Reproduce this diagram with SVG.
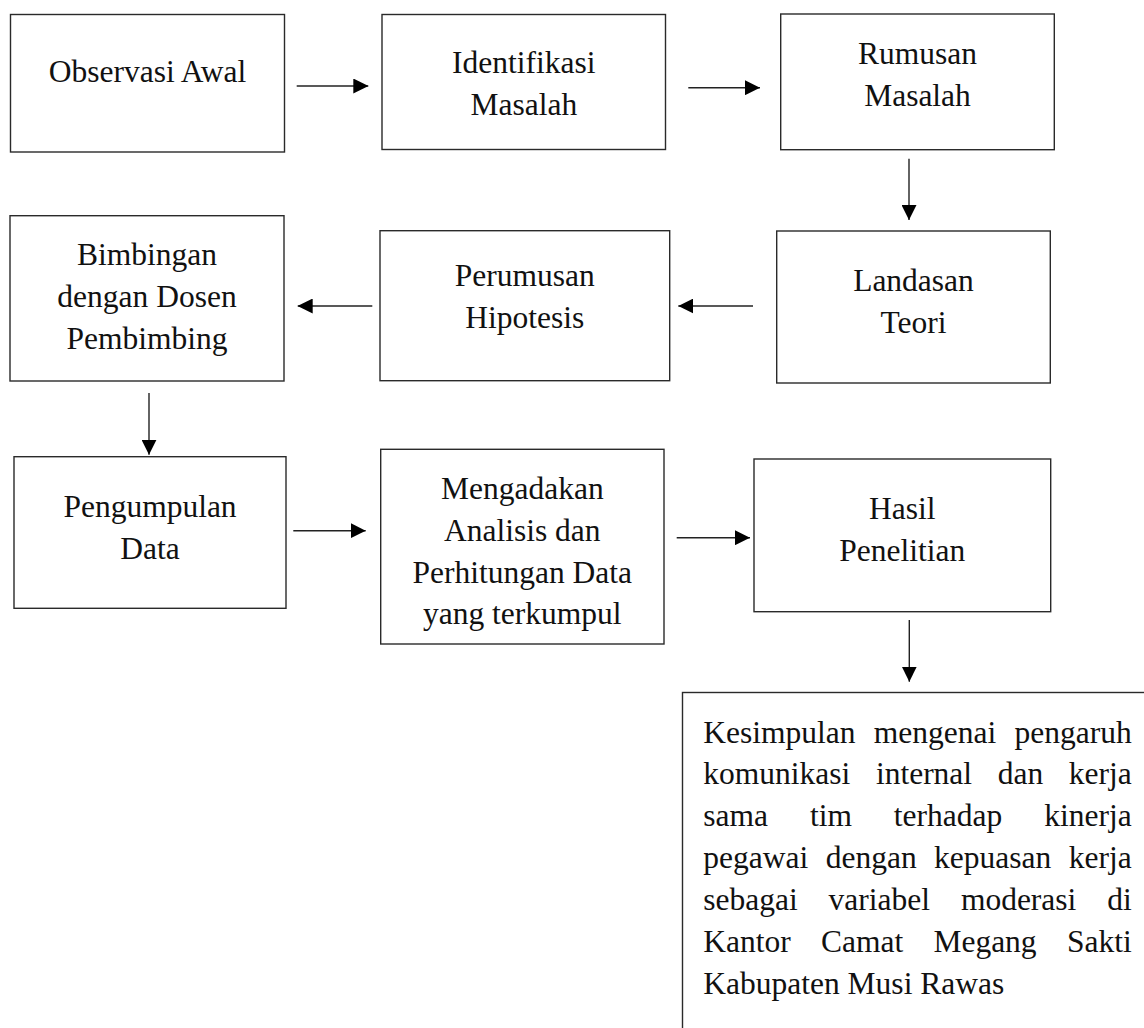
<svg xmlns="http://www.w3.org/2000/svg" width="1144" height="1028" viewBox="0 0 1144 1028">
  <style>
    .box { fill: #ffffff; stroke: #2a2a2a; stroke-width: 1.4; }
    .lbl { font-family: "Liberation Serif", "Times New Roman", serif; font-size: 31.5px; fill: #111; }
    .mid { text-anchor: middle; }
    .end { text-anchor: end; }
    .conn { stroke: #222; stroke-width: 1.4; fill: none; marker-end: url(#head); }
  </style>
  <defs>
    <marker id="head" markerUnits="userSpaceOnUse" markerWidth="15" markerHeight="15" refX="15" refY="7.5" orient="auto">
      <path d="M0,0 L15,7.5 L0,15 Z" fill="#000"/>
    </marker>
  </defs>
  <rect width="1144" height="1028" fill="#ffffff"/>

  <!-- Row 1 -->
  <g id="observasi-awal">
    <rect class="box" x="10.5" y="14.5" width="274" height="137.5"/>
    <text class="lbl mid" x="147.5" y="81.7">Observasi Awal</text>
  </g>
  <g id="identifikasi-masalah">
    <rect class="box" x="382" y="14.5" width="283.5" height="135"/>
    <text class="lbl mid" x="523.8" y="72.7">Identifikasi</text>
    <text class="lbl mid" x="523.8" y="115">Masalah</text>
  </g>
  <g id="rumusan-masalah">
    <rect class="box" x="780.7" y="14" width="273.6" height="135.7"/>
    <text class="lbl mid" x="917.5" y="64">Rumusan</text>
    <text class="lbl mid" x="917.5" y="106">Masalah</text>
  </g>

  <!-- Row 2 -->
  <g id="landasan-teori">
    <rect class="box" x="776.7" y="231" width="273.6" height="152"/>
    <text class="lbl mid" x="913.5" y="291">Landasan</text>
    <text class="lbl mid" x="913.5" y="333">Teori</text>
  </g>
  <g id="perumusan-hipotesis">
    <rect class="box" x="380" y="230.7" width="289.7" height="150"/>
    <text class="lbl mid" x="524.8" y="285.7">Perumusan</text>
    <text class="lbl mid" x="524.8" y="327.7">Hipotesis</text>
  </g>
  <g id="bimbingan">
    <rect class="box" x="10" y="215.7" width="274" height="165.3"/>
    <text class="lbl mid" x="147" y="265">Bimbingan</text>
    <text class="lbl mid" x="147" y="307">dengan Dosen</text>
    <text class="lbl mid" x="147" y="349">Pembimbing</text>
  </g>

  <!-- Row 3 -->
  <g id="pengumpulan-data">
    <rect class="box" x="14" y="456.7" width="272" height="151.6"/>
    <text class="lbl mid" x="150" y="516.7">Pengumpulan</text>
    <text class="lbl mid" x="150" y="559">Data</text>
  </g>
  <g id="analisis-data">
    <rect class="box" x="380.7" y="449.3" width="283.3" height="194.7"/>
    <text class="lbl mid" x="522.3" y="499.3">Mengadakan</text>
    <text class="lbl mid" x="522.3" y="541">Analisis dan</text>
    <text class="lbl mid" x="522.3" y="582.7">Perhitungan Data</text>
    <text class="lbl mid" x="522.3" y="624.3">yang terkumpul</text>
  </g>
  <g id="hasil-penelitian">
    <rect class="box" x="754" y="459" width="296.7" height="152.7"/>
    <text class="lbl mid" x="902.3" y="519.3">Hasil</text>
    <text class="lbl mid" x="902.3" y="560.7">Penelitian</text>
  </g>

  <!-- Conclusion (justified paragraph) -->
  <g id="kesimpulan">
    <rect class="box" x="682.5" y="692.5" width="520" height="400"/>
    <g class="lbl">
      <text x="703.3" y="742.5">Kesimpulan</text>
      <text x="873.8" y="742.5">mengenai</text>
      <text class="end" x="1131.7" y="742.5">pengaruh</text>

      <text x="703.3" y="784.4">komunikasi</text>
      <text x="875.9" y="784.4">internal</text>
      <text x="997.7" y="784.4">dan</text>
      <text class="end" x="1131.7" y="784.4">kerja</text>

      <text x="703.3" y="826.3">sama</text>
      <text x="809.9" y="826.3">tim</text>
      <text x="893.8" y="826.3">terhadap</text>
      <text class="end" x="1131.7" y="826.3">kinerja</text>

      <text x="703.3" y="868.2">pegawai</text>
      <text x="825.7" y="868.2">dengan</text>
      <text x="934.1" y="868.2">kepuasan</text>
      <text class="end" x="1131.7" y="868.2">kerja</text>

      <text x="703.3" y="910.1">sebagai</text>
      <text x="828.6" y="910.1">variabel</text>
      <text x="960.9" y="910.1">moderasi</text>
      <text class="end" x="1131.7" y="910.1">di</text>

      <text x="703.3" y="952">Kantor</text>
      <text x="821" y="952">Camat</text>
      <text x="933.4" y="952">Megang</text>
      <text class="end" x="1131.7" y="952">Sakti</text>

      <text x="703.3" y="993.9">Kabupaten Musi Rawas</text>
    </g>
  </g>

  <!-- Connectors -->
  <g id="connectors">
    <line class="conn" x1="296.7" y1="86" x2="368.3" y2="86"/>
    <line class="conn" x1="688.3" y1="87.7" x2="760" y2="87.7"/>
    <line class="conn" x1="909" y1="158.7" x2="909" y2="220"/>
    <line class="conn" x1="753" y1="306" x2="678.3" y2="306"/>
    <line class="conn" x1="372.3" y1="306" x2="297.7" y2="306"/>
    <line class="conn" x1="149" y1="393" x2="149" y2="454.7"/>
    <line class="conn" x1="293.3" y1="530.7" x2="365.7" y2="530.7"/>
    <line class="conn" x1="676.7" y1="537.7" x2="750" y2="537.7"/>
    <line class="conn" x1="909.3" y1="620" x2="909.3" y2="681.7"/>
  </g>
</svg>
